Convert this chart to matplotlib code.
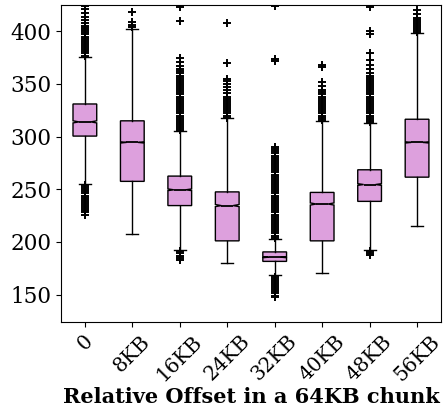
import matplotlib
matplotlib.use('Agg')
import matplotlib.pyplot as plt

plt.rcParams['font.family'] = 'DejaVu Serif'

# Offsets (x categories)
labels = ['0', '8KB', '16KB', '24KB', '32KB', '40KB', '48KB', '56KB']

# Box summary statistics
medians = [314, 294.5, 249.5, 234.5, 185.5, 236, 254.5, 294.5]
q1 = [300.5, 257.5, 234.5, 201, 181.5, 201, 238.5, 261.5]
q3 = [331, 315, 262.5, 247.5, 190.5, 247, 268.5, 316.5]
whisk_lo = [255, 207.5, 192.5, 179.5, 168.5, 170.5, 192.5, 215.5]
whisk_hi = [376, 402.5, 305, 317.5, 203, 315, 312.5, 398]
notch_half = [1.0, 0.6, 0.8, 1.0, 0.5, 1.0, 0.8, 0.6]

# Outliers
fliers = [
    [377, 379, 381, 383, 385, 387, 389, 391, 393, 395, 397, 399, 401, 403, 405,
     408, 411, 414, 417, 421, 424,
     254, 252, 250, 248, 246, 244, 242, 240, 238, 236, 234, 232, 230, 228, 226],
    [404, 406, 409, 418],
    [306, 308, 310, 312, 314, 316, 318, 320, 322, 324, 326, 328, 330, 332, 334,
     336, 338, 340, 342, 344, 346, 348, 350, 352, 354, 356, 358, 360, 362, 364,
     367, 371, 375, 410, 423,
     191, 189, 187, 185, 183],
    [318, 320, 322, 324, 326, 328, 330, 332, 334, 336, 338, 341, 344, 347, 350,
     353, 355, 370, 408],
    [204, 206, 208, 210, 212, 214, 216, 218, 220, 222, 224, 226, 228, 230, 232,
     234, 236, 238, 240, 242, 244, 246, 248, 250, 252, 254, 256, 258, 260, 262,
     264, 266, 268, 270, 272, 274, 276, 278, 280, 282, 284, 286, 288, 290,
     372, 374, 424,
     167, 165, 163, 161, 159, 157, 155, 153, 151, 149, 148],
    [316, 318, 320, 322, 324, 326, 328, 330, 332, 334, 336, 338, 340, 342, 344,
     348, 352, 366, 368],
    [314, 316, 318, 320, 322, 324, 326, 328, 330, 332, 334, 336, 338, 340, 342,
     344, 346, 348, 350, 352, 354, 356, 358, 360, 364, 368, 373, 379, 397, 400, 423,
     191, 189, 188],
    [399, 401, 403, 405, 407, 409, 411, 413, 416, 420],
]

stats = []
for i in range(len(labels)):
    stats.append({
        'med': medians[i], 'q1': q1[i], 'q3': q3[i],
        'whislo': whisk_lo[i], 'whishi': whisk_hi[i],
        'cilo': medians[i] - notch_half[i], 'cihi': medians[i] + notch_half[i],
        'fliers': fliers[i], 'label': labels[i],
    })

fig, ax = plt.subplots(figsize=(4.43, 4.17), dpi=100)
fig.subplots_adjust(left=0.138, right=0.995, top=0.988, bottom=0.228)

ax.bxp(stats, widths=0.5, shownotches=True, patch_artist=True,
       boxprops=dict(facecolor='plum', edgecolor='black'),
       medianprops=dict(color='black', linewidth=1.3),
       flierprops=dict(marker='+', markeredgecolor='black', markeredgewidth=1.4))

ax.set_ylim(124, 425)
ax.set_yticks([150, 200, 250, 300, 350, 400])
ax.tick_params(axis='y', labelsize=15.5)
ax.tick_params(axis='x', labelsize=14.5)
plt.setp(ax.get_xticklabels(), rotation=45)
ax.set_xlabel('Relative Offset in a 64KB chunk', fontsize=15, fontweight='bold',
              labelpad=2)

plt.savefig('out.png')
